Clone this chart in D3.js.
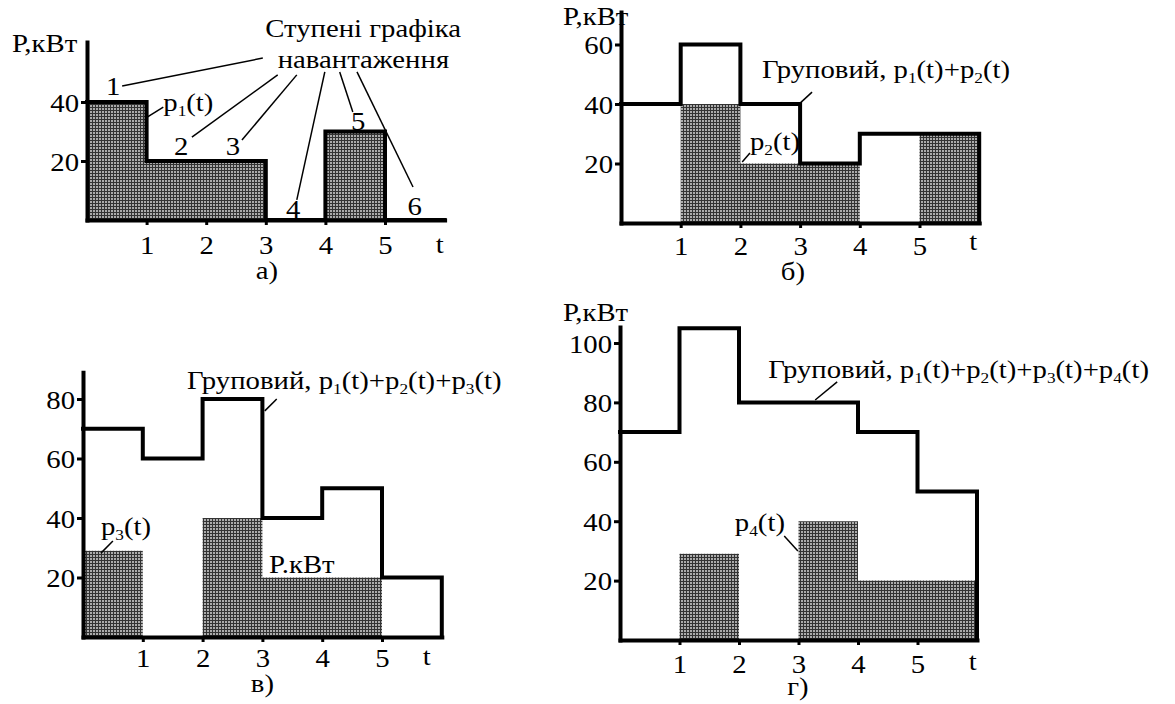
<!DOCTYPE html>
<html>
<head>
<meta charset="utf-8">
<script src="https://cdn.jsdelivr.net/npm/d3@7"></script>
<style>
  body { margin: 0; background: #fff; }
  svg text { font-family: "Liberation Serif", "DejaVu Serif", serif; }
</style>
</head>
<body>
<script>
// step graphs of load, t = 0..6, one value per interval
var tTicks = [1, 2, 3, 4, 5];

var p1 = [40, 20, 20, 0, 30, 0];
var groupB = [40, 60, 40, 20, 30, 30];
var p2 = [0, 40, 20, 20, 0, 30];
var groupC = [70, 60, 80, 40, 50, 20];
var p3 = [29, 0, 40, 20, 20, 0];
var groupD = [70, 105, 80, 80, 70, 50];
var p4 = [0, 29, 0, 40, 20, 20];

var yTicksA = [20, 40];
var yTicksB = [20, 40, 60];
var yTicksC = [20, 40, 60, 80];
var yTicksD = [20, 40, 60, 80, 100];

var FS = 25, SX = 1.15;

var svg = d3.select('body').append('svg')
    .attr('width', 1175)
    .attr('height', 704);

var pat = svg.append('defs').append('pattern')
    .attr('id', 'hatch')
    .attr('patternUnits', 'userSpaceOnUse')
    .attr('width', 3)
    .attr('height', 3);
pat.append('rect').attr('width', 3).attr('height', 3).attr('fill', '#333');
pat.append('rect').attr('width', 2).attr('height', 2).attr('fill', '#ababab');

// layout of each panel: left/bottom pixel of origin, px per t, px per kW, axis top (kW)
var panels = [
  {
    left: 87, bottom: 220, sx: 59.6, sy: 2.95, top: 60.3,
    line: p1, shade: p1, yTicks: yTicksA, tickDy: 34,
    texts: [
      {t: -1.26, p: 57, s: 'Р,кВт'},
      {t: 2.99, p: 62, s: 'Ступені графіка'},
      {t: 3.2, p: 51.5, s: 'навантаження'},
      {t: 0.44, p: 42.4, s: '1', a: 'middle'},
      {t: 1.28, p: 37, s: 'p_1(t)'},
      {t: 1.58, p: 22, s: '2', a: 'middle'},
      {t: 2.45, p: 22, s: '3', a: 'middle'},
      {t: 3.46, p: 0.7, s: '4', a: 'middle'},
      {t: 4.55, p: 30.5, s: '5', a: 'middle'},
      {t: 5.5, p: 1.7, s: '6', a: 'middle'},
      {t: 5.92, p: -11.2, s: 't', a: 'middle'},
      {t: 3.02, p: -20, s: 'а)', a: 'middle'}
    ],
    leaders: [
      [2.95, 54.9, 0.59, 45.4],
      [3.2, 49.2, 1.76, 28.1],
      [3.52, 49.2, 2.6, 27.1],
      [3.99, 50.2, 3.52, 6.8],
      [4.24, 50.2, 4.46, 36.6],
      [4.53, 50.2, 5.47, 11.2],
      [1.01, 34.9, 1.28, 38.3]
    ]
  },
  {
    left: 621, bottom: 223, sx: 59.7, sy: 2.975, top: 70.9,
    line: groupB, shade: p2, yTicks: yTicksB, tickDy: 32,
    texts: [
      {t: -0.97, p: 66.6, s: 'Р,кВт'},
      {t: 2.36, p: 48.7, s: 'Груповий, p_1(t)+p_2(t)'},
      {t: 2.16, p: 24.5, s: 'p_2(t)'},
      {t: 5.9, p: -9, s: 't', a: 'middle'},
      {t: 2.88, p: -19, s: 'б)', a: 'middle'}
    ],
    leaders: [
      [3.0, 40.3, 3.2, 44.0],
      [2.03, 20.5, 2.16, 23.5]
    ]
  },
  {
    left: 83, bottom: 637, sx: 59.8, sy: 2.975, top: 89,
    line: groupC, shade: p3, yTicks: yTicksC, tickDy: 30,
    texts: [
      {t: 1.74, p: 83.4, s: 'Груповий, p_1(t)+p_2(t)+p_3(t)'},
      {t: 0.3, p: 34.3, s: 'p_3(t)'},
      {t: 3.11, p: 21.5, s: 'P.кВт'},
      {t: 5.75, p: -9.4, s: 't', a: 'middle'},
      {t: 3.0, p: -18.4, s: 'в)', a: 'middle'}
    ],
    leaders: [
      [3.04, 76, 3.24, 80],
      [0.3, 28.2, 0.5, 32.3]
    ]
  },
  {
    left: 620, bottom: 640, sx: 59.5, sy: 2.97, top: 105.4,
    line: groupD, shade: p4, yTicks: yTicksD, tickDy: 33,
    texts: [
      {t: -0.96, p: 107.4, s: 'Р,кВт'},
      {t: 2.49, p: 88.2, s: 'Груповий, p_1(t)+p_2(t)+p_3(t)+p_4(t)'},
      {t: 1.93, p: 36.7, s: 'p_4(t)'},
      {t: 5.93, p: -10, s: 't', a: 'middle'},
      {t: 2.99, p: -18.4, s: 'г)', a: 'middle'}
    ],
    leaders: [
      [3.28, 80.8, 3.65, 86.9],
      [2.76, 35, 2.99, 30]
    ]
  }
];

function label(g, x, y, str, anchor) {
  var t = g.append('text')
      .attr('transform', 'translate(' + x + ',' + y + ') scale(' + SX + ',1)')
      .attr('text-anchor', anchor || 'start')
      .attr('font-size', FS)
      .attr('fill', '#000');
  var parts = str.split(/_(\d)/);
  var wasSub = false;
  parts.forEach(function(s, i) {
    if (!s) return;
    var span = t.append('tspan').text(s);
    if (i % 2) {
      span.attr('font-size', 15).attr('dy', 5);
      wasSub = true;
    } else if (wasSub) {
      span.attr('dy', -5);
      wasSub = false;
    }
  });
}

function drawPanel(p) {
  var x = d3.scaleLinear().domain([0, 6]).range([p.left, p.left + 6 * p.sx]);
  var y = d3.scaleLinear().domain([0, p.top]).range([p.bottom, p.bottom - p.top * p.sy]);
  var g = svg.append('g');

  var shadePts = p.shade.map(function(v, i) { return [i, v]; }).concat([[6, p.shade[5]]]);
  g.append('path')
      .datum(shadePts)
      .attr('fill', 'url(#hatch)')
      .attr('d', d3.area()
        .x(function(d) { return x(d[0]); })
        .y0(y(0))
        .y1(function(d) { return y(d[1]); })
        .curve(d3.curveStepAfter));

  var xAxis = d3.axisBottom(x).tickValues(tTicks).tickFormat(d3.format('d'))
      .tickSize(5).tickSizeOuter(0);
  var yAxis = d3.axisLeft(y).tickValues(p.yTicks).tickFormat(d3.format('d'))
      .tickSize(6).tickSizeOuter(0);

  var gx = g.append('g')
      .attr('transform', 'translate(0,' + y(0) + ')')
      .call(xAxis);
  var gy = g.append('g')
      .attr('transform', 'translate(' + x(0) + ',0)')
      .call(yAxis);

  [gx, gy].forEach(function(ax) {
    ax.attr('font-family', null).attr('font-size', FS);
    ax.select('.domain').attr('stroke-width', 4).attr('stroke-linecap', 'square');
    ax.selectAll('.tick line').attr('stroke-width', 3);
    ax.selectAll('.tick text').attr('fill', '#000');
  });
  gx.selectAll('.tick text')
      .attr('y', null).attr('dy', null)
      .attr('transform', 'translate(0,' + p.tickDy + ') scale(' + SX + ',1)');
  gy.selectAll('.tick text')
      .attr('x', null).attr('dy', null)
      .attr('transform', 'translate(-8,9) scale(' + SX + ',1)');

  var linePts = p.line.map(function(v, i) { return [i, v]; }).concat([[6, p.line[5]], [6, 0]]);
  g.append('path')
      .datum(linePts)
      .attr('fill', 'none')
      .attr('stroke', '#000')
      .attr('stroke-width', 4)
      .attr('stroke-linejoin', 'miter')
      .attr('stroke-linecap', 'square')
      .attr('d', d3.line()
        .x(function(d) { return x(d[0]); })
        .y(function(d) { return y(d[1]); })
        .curve(d3.curveStepAfter));

  g.selectAll('.leader')
      .data(p.leaders)
      .enter().append('line')
      .attr('class', 'leader')
      .attr('x1', function(d) { return x(d[0]); })
      .attr('y1', function(d) { return y(d[1]); })
      .attr('x2', function(d) { return x(d[2]); })
      .attr('y2', function(d) { return y(d[3]); })
      .attr('stroke', '#000')
      .attr('stroke-width', 1.5);

  p.texts.forEach(function(d) {
    label(g, x(d.t), y(d.p), d.s, d.a);
  });
}

panels.forEach(drawPanel);
</script>
</body>
</html>
